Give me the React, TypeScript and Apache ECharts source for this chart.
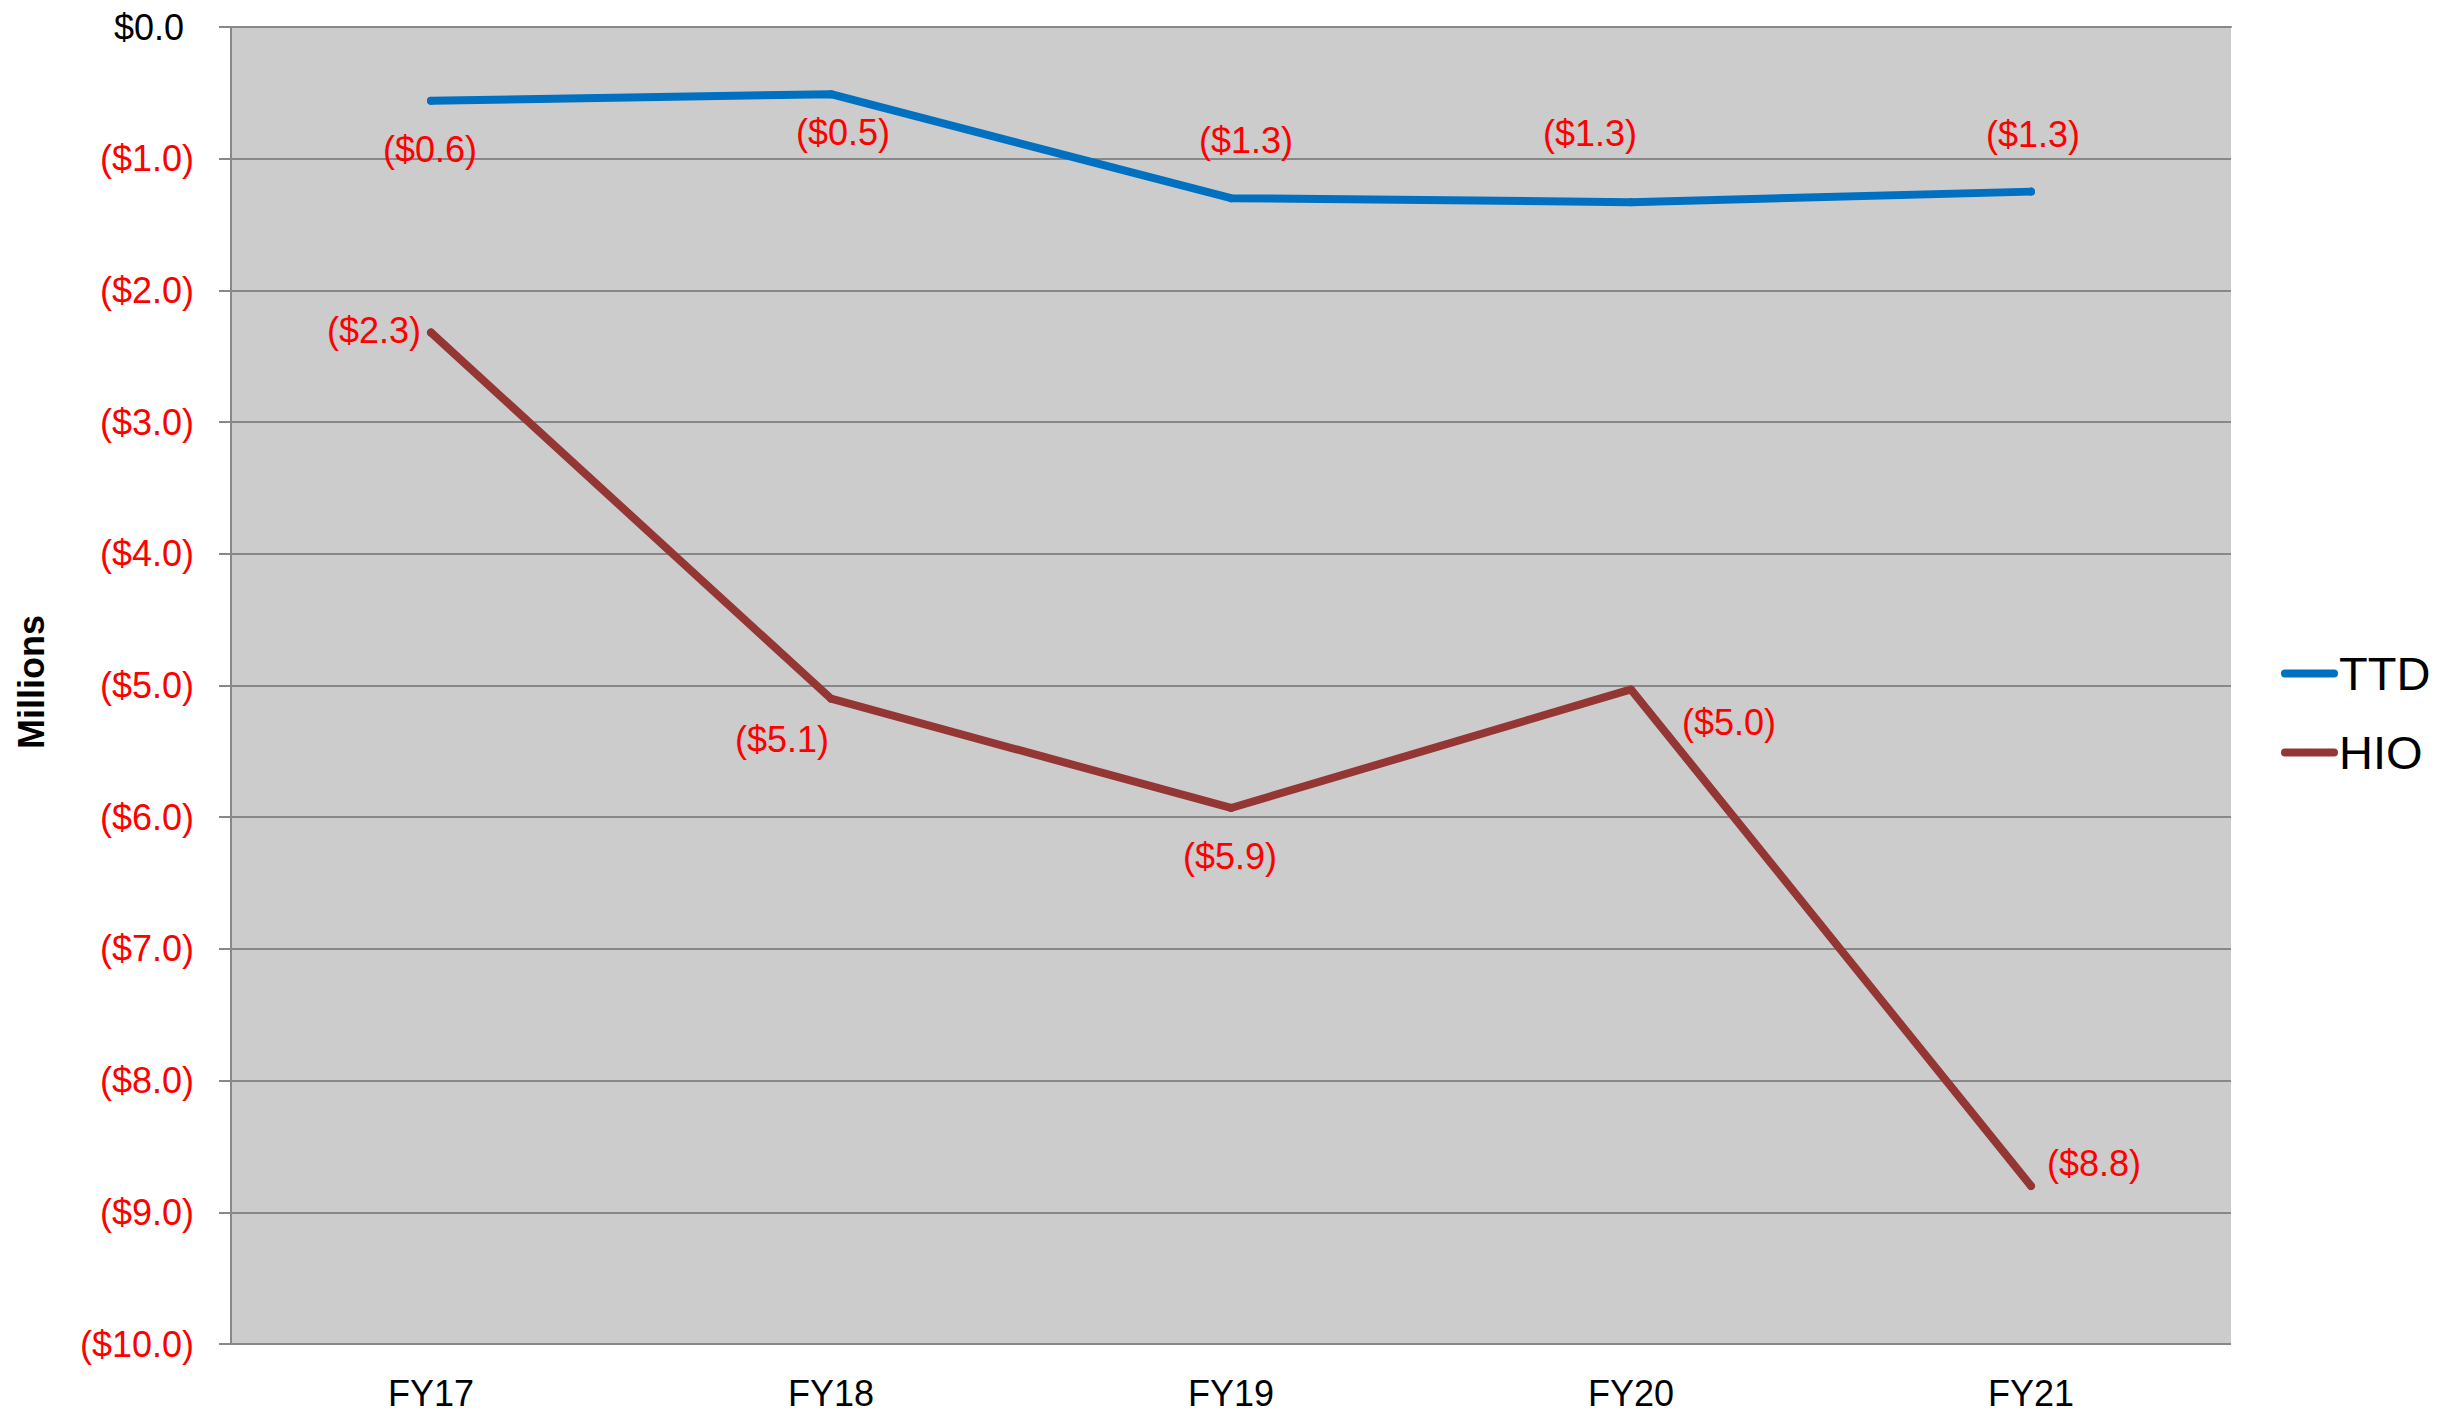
import React, { useEffect, useRef } from "react";
import * as echarts from "echarts";

const categories = ["FY17", "FY18", "FY19", "FY20", "FY21"];
const ttdValues = [-0.56, -0.51, -1.3, -1.33, -1.25];
const hioValues = [-2.32, -5.1, -5.93, -5.03, -8.8];
const seriesNames = ["TTD", "HIO"];
const yAxisTitle = "Millions";

// label offsets relative to each point (style, not data)
const ttdLabelOffsets = [
  [-1, 49],
  [12, 38],
  [15, -58],
  [-41, -69],
  [2, -57],
];
const hioLabelOffsets = [
  [-57, -2],
  [-49, 41],
  [-1, 49],
  [98, 33],
  [63, -22],
];

const FONT = "'Liberation Sans', Arial, Helvetica, sans-serif";

const fmt = (v: number) => {
  if (Math.abs(v) < 1e-9) return "$0.0";
  return "($" + Math.abs(v).toFixed(1) + ")";
};

export default function App() {
  const ref = useRef<HTMLDivElement>(null);
  useEffect(() => {
    document.body.style.margin = "0";
    const chart = echarts.init(ref.current!, null, { renderer: "svg" });
    const mkData = (vals: number[], offs: number[][]) =>
      vals.map((v, i) => ({ value: v, label: { offset: offs[i] } }));
    const labelCfg = {
      show: true,
      position: "inside",
      align: "center",
      verticalAlign: "middle",
      color: "#ff0000",
      fontSize: 36,
      fontFamily: FONT,
      formatter: (p: any) => fmt(p.value),
    };
    chart.setOption({
      animation: false,
      backgroundColor: "#ffffff",
      grid: {
        left: 231,
        top: 27,
        width: 2000,
        height: 1317,
        show: true,
        backgroundColor: "#cccccc",
        borderWidth: 0,
      },
      legend: {
        orient: "vertical",
        left: 2276,
        top: 645,
        itemWidth: 49,
        itemHeight: 8,
        itemGap: 32,
        itemStyle: { borderWidth: 0 },
        lineStyle: { width: 8, cap: "round" },
        textStyle: {
          fontSize: 47,
          lineHeight: 47,
          color: "#000000",
          fontFamily: FONT,
        },
        data: seriesNames,
      },
      xAxis: {
        type: "category",
        data: categories,
        boundaryGap: true,
        axisLine: { show: true, lineStyle: { color: "#888888", width: 2 } },
        axisTick: { show: false },
        axisLabel: {
          color: "#000000",
          fontSize: 36,
          fontFamily: FONT,
          margin: 31,
        },
        splitLine: { show: false },
      },
      yAxis: {
        type: "value",
        min: -10,
        max: 0,
        interval: 1,
        axisLine: { show: true, lineStyle: { color: "#888888", width: 2 } },
        axisTick: {
          show: true,
          length: 12,
          lineStyle: { color: "#888888", width: 2 },
        },
        splitLine: { show: true, lineStyle: { color: "#888888", width: 2 } },
        axisLabel: {
          fontSize: 36,
          fontFamily: FONT,
          margin: 37,
          formatter: (v: number) =>
            Math.abs(v) < 1e-9 ? "{z|" + fmt(v) + "}" : "{n|" + fmt(v) + "}",
          rich: {
            z: {
              color: "#000000",
              fontSize: 36,
              fontFamily: FONT,
              padding: [0, 10, 0, 0],
            },
            n: { color: "#ff0000", fontSize: 36, fontFamily: FONT },
          },
        },
      },
      graphic: [
        {
          type: "text",
          x: 31,
          y: 682,
          rotation: Math.PI / 2,
          style: {
            text: yAxisTitle,
            font: "bold 36px " + FONT,
            fill: "#000000",
            align: "center",
            verticalAlign: "middle",
          },
        },
      ],
      series: [
        {
          name: seriesNames[0],
          type: "line",
          data: mkData(ttdValues, ttdLabelOffsets),
          symbol: "circle",
          symbolSize: 8,
          itemStyle: { color: "#0070c0", borderWidth: 0 },
          lineStyle: { color: "#0070c0", width: 8, cap: "round", join: "round" },
          label: labelCfg,
          z: 3,
        },
        {
          name: seriesNames[1],
          type: "line",
          data: mkData(hioValues, hioLabelOffsets),
          symbol: "circle",
          symbolSize: 8,
          itemStyle: { color: "#943634", borderWidth: 0 },
          lineStyle: { color: "#943634", width: 8, cap: "round", join: "round" },
          label: labelCfg,
          z: 3,
        },
      ],
    });
    return () => chart.dispose();
  }, []);
  return (
    <div
      ref={ref}
      style={{ position: "absolute", left: 0, top: 0, width: 2463, height: 1412 }}
    />
  );
}
